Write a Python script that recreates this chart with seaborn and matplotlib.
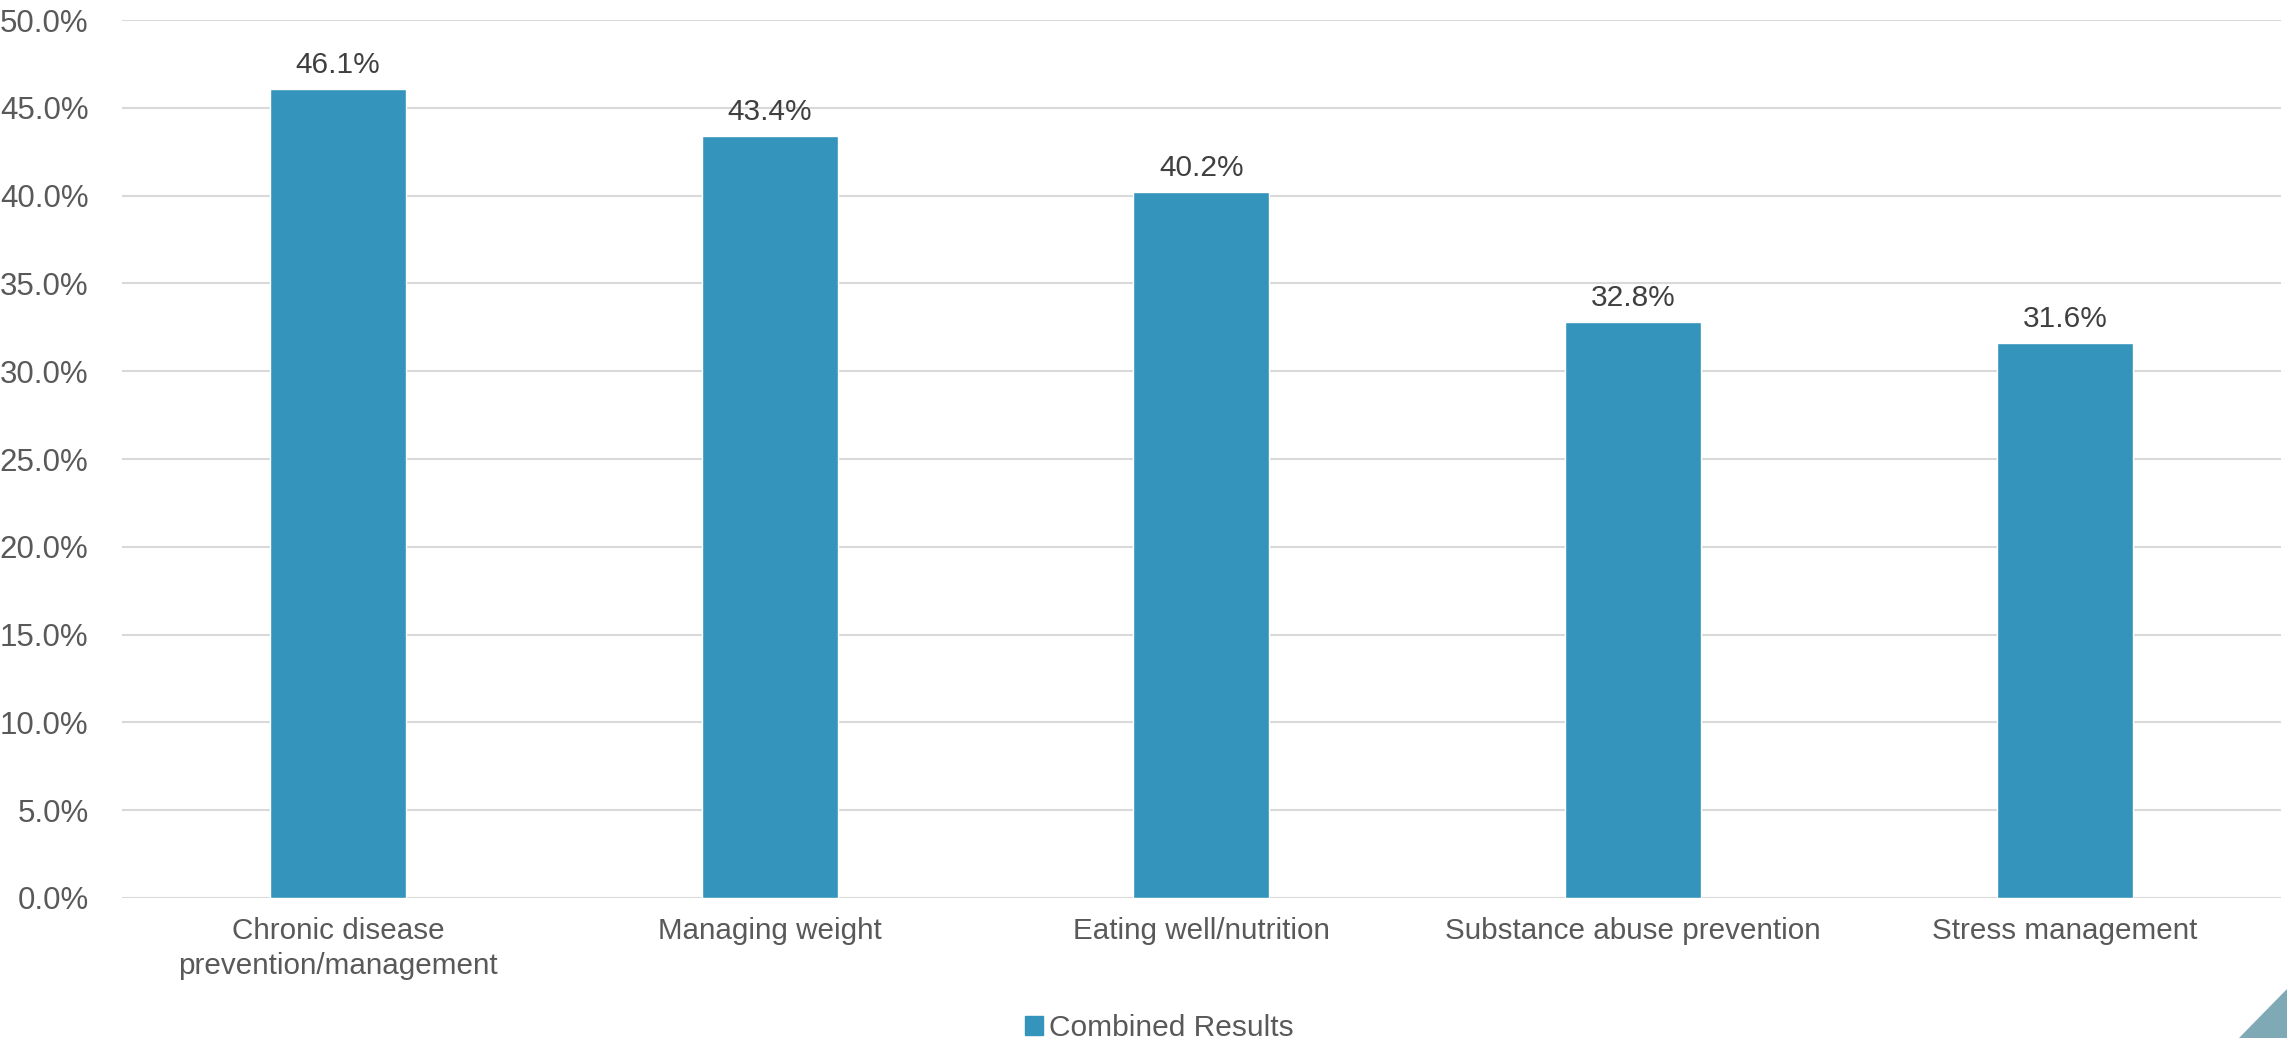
import pandas as pd
import matplotlib.pyplot as plt
import seaborn as sns
from matplotlib.patches import Patch, Polygon
from matplotlib.ticker import FuncFormatter, MultipleLocator

# data
topics = ["Chronic disease\nprevention/management", "Managing weight",
          "Eating well/nutrition", "Substance abuse prevention", "Stress management"]
combined = [0.461, 0.434, 0.402, 0.328, 0.316]
series_name = "Combined Results"

df = pd.DataFrame({"Topic": topics, "Share": combined})

sns.set_style("white")
plt.rcParams["font.family"] = ["Liberation Sans", "DejaVu Sans"]

bar_color = "#3594BB"
grey = "#595959"

fig = plt.figure(figsize=(22.87, 10.38), dpi=100)
ax = fig.add_axes([0.0533, 0.1349, 0.9441, 0.8458])

sns.barplot(data=df, x="Topic", y="Share", color=bar_color, width=0.315,
            saturation=1, ax=ax, zorder=3)

ax.set_ylim(0, 0.5)
ax.set_xlim(-0.5, len(topics) - 0.5)
ax.yaxis.set_major_locator(MultipleLocator(0.05))
ax.yaxis.set_major_formatter(FuncFormatter(lambda v, p: f"{v*100:.1f}%"))
ax.grid(axis="y", color="#D9D9D9", linewidth=1.5, zorder=0)
ax.set_axisbelow(True)
for s in ax.spines.values():
    s.set_visible(False)

ax.set_xlabel("")
ax.set_ylabel("")
ax.tick_params(axis="y", length=0, pad=24, labelsize=22.5, labelcolor=grey)
ax.tick_params(axis="x", length=0, pad=14, labelsize=21.3, labelcolor=grey)
for lbl in ax.get_xticklabels():
    lbl.set_linespacing(1.3)

for i, v in enumerate(combined):
    ax.annotate(f"{v*100:.1f}%", (i, v), xytext=(0, 7), textcoords="offset points",
                ha="center", va="bottom", fontsize=21.5, color="#404040")

fig.legend(handles=[Patch(color=bar_color, label=series_name)],
           loc="lower center", bbox_to_anchor=(0.507, -0.03), frameon=False,
           fontsize=21.5, labelcolor=grey, handlelength=0.6, handleheight=0.6,
           handletextpad=0.2)

# decorative corner triangle
fig.patches.append(Polygon([[0.979, 0], [1, 0], [1, 0.047]], closed=True,
                           transform=fig.transFigure, color="#7FAAB5"))

fig.savefig("out.png", dpi=100)
